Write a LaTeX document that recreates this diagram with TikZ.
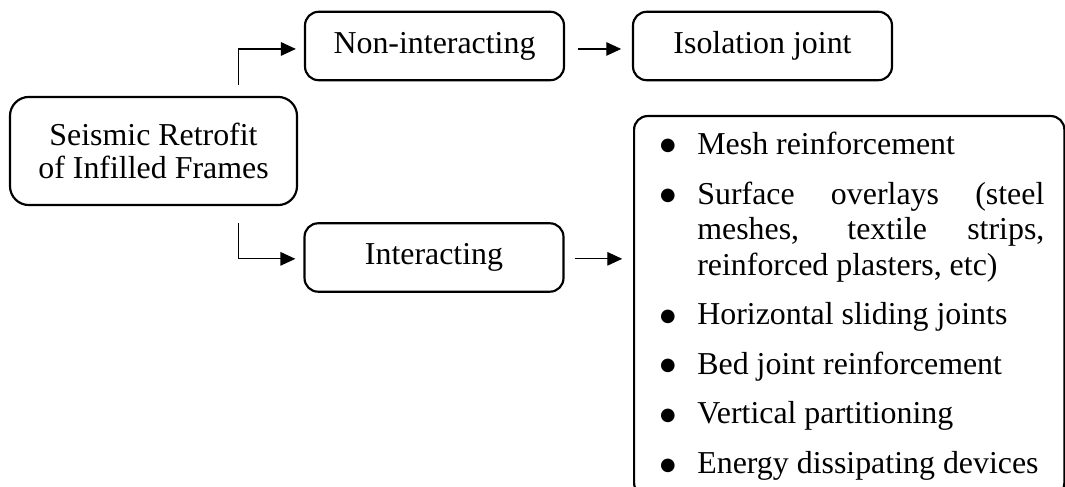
\documentclass[tikz,border=0pt]{standalone}
\usepackage{fontspec}
\setmainfont{Liberation Serif}
\newfontfamily\dotfont{DejaVu Sans}
\usetikzlibrary{arrows.meta}

\newcommand{\techdot}{\leavevmode\llap{\raisebox{1.3pt}{\dotfont\fontsize{6.6}{6.6}\selectfont ●}\hspace{8pt}}}

\tikzset{
  stagebox/.style={draw, line width=0.8pt, rounded corners=5pt, align=center,
    inner sep=0pt, minimum width=95.8pt, minimum height=25.3pt},
  flow/.style={-{Triangle[length=5.5pt,width=5pt]}, line width=0.4pt},
}

\begin{document}
\begin{tikzpicture}[x=0.37pt,y=-0.37pt,font=\fontsize{11.8}{12.2}\selectfont]
          \path[use as bounding box, clip] (0,0) rectangle (1065,487);

          % main topic
          \node[stagebox, rounded corners=7pt, minimum width=106.2pt, minimum height=40pt]
            (retrofit) at (153.5,151) {Seismic Retrofit\\of Infilled Frames};

          % strategies
          \node[stagebox] (noninter) at (434.5,46) {Non-interacting};
          \node[stagebox] (inter) at (434,257.5) {Interacting};
          \node[stagebox] (isolation) at (762.5,46) {Isolation joint};

          % interacting techniques
          \node[stagebox, anchor=north west, text width=144.4pt, align=justify,
            inner xsep=7.4pt, inner ysep=5.9pt, font=\fontsize{11.8}{13.15}\selectfont]
            (methods) at (633,115) {%
            \setlength{\parindent}{0pt}\setlength{\leftskip}{16pt}\setlength{\parskip}{5.2pt}%
            \techdot Mesh reinforcement\par
            \techdot Surface overlays (steel\linebreak meshes, textile strips,\linebreak reinforced plasters, etc)\par
            \techdot Horizontal sliding joints\par
            \techdot Bed joint reinforcement\par
            \techdot Vertical partitioning\par
            \techdot Energy dissipating devices\par};

          % branches
          \draw[flow, shorten >=3pt] ([xshift=31.3pt,yshift=4.1pt]retrofit.north) |- ([yshift=-1.1pt]noninter.west);
          \draw[flow, shorten >=3pt] ([xshift=31.3pt,yshift=-6.3pt]retrofit.south) |- ([yshift=-0.5pt]inter.west);

          % outcomes
          \draw[flow, shorten <=4.8pt, shorten >=4pt] ([yshift=-1.1pt]noninter.east) -- ([yshift=-1.1pt]isolation.west);
          \draw[flow, shorten <=3.7pt, shorten >=4pt] ([yshift=-0.5pt]inter.east) -- ([yshift=-0.5pt]inter.east -| methods.west);
        \end{tikzpicture}
\end{document}
